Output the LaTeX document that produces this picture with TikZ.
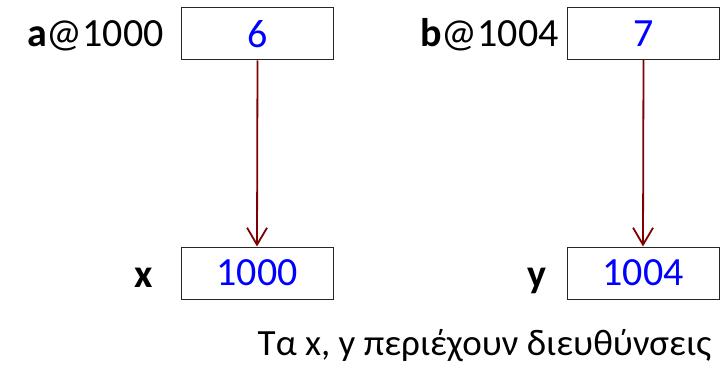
\documentclass[tikz,border=0pt]{standalone}
\usepackage{fontspec}
\setmainfont{Carlito}
\usetikzlibrary{arrows.meta}
\definecolor{ptrred}{HTML}{7F0000}
\definecolor{valblue}{HTML}{0000FF}
\tikzset{
  cell/.style={draw=black!85, line width=1pt, minimum width=152pt, minimum height=52pt, inner sep=0pt, text=valblue, font=\fontsize{40}{40}\selectfont},
  lbl/.style={inner sep=0pt, font=\fontsize{40}{40}\selectfont, anchor=base},
  ptr/.style={draw=ptrred, line width=1.8pt, -{Straight Barb[length=17pt,width=20pt,line width=1.8pt]}},
  note/.style={inner sep=0pt, font=\fontsize{37}{37}\selectfont, anchor=base}
}
\begin{document}
\begin{tikzpicture}[x=1pt,y=1pt]
\useasboundingbox (0,0) rectangle (720,373);
\node[cell] (a) at (257.5,339) {6};
\node[cell] (b) at (643.5,339.5) {7};
\node[cell] (x) at (257,100) {1000};
\node[cell] (y) at (643,100) {1004};
\node[lbl, anchor=base east] (la) at (164,326) {\textbf{a}@1000};
\node[lbl, anchor=base east] (lb) at (559,326) {\textbf{b}@1004};
\node[lbl] (lx) at (144,86) {\textbf{x}};
\node[lbl] (ly) at (537,86) {\textbf{y}};
\draw[ptr] (a.south) -- (x.north);
\draw[ptr] (b.south) -- (y.north);
\node[note] (n) at (484.5,18) {Τα x, y περιέχουν διευθύνσεις};
\end{tikzpicture}
\end{document}
